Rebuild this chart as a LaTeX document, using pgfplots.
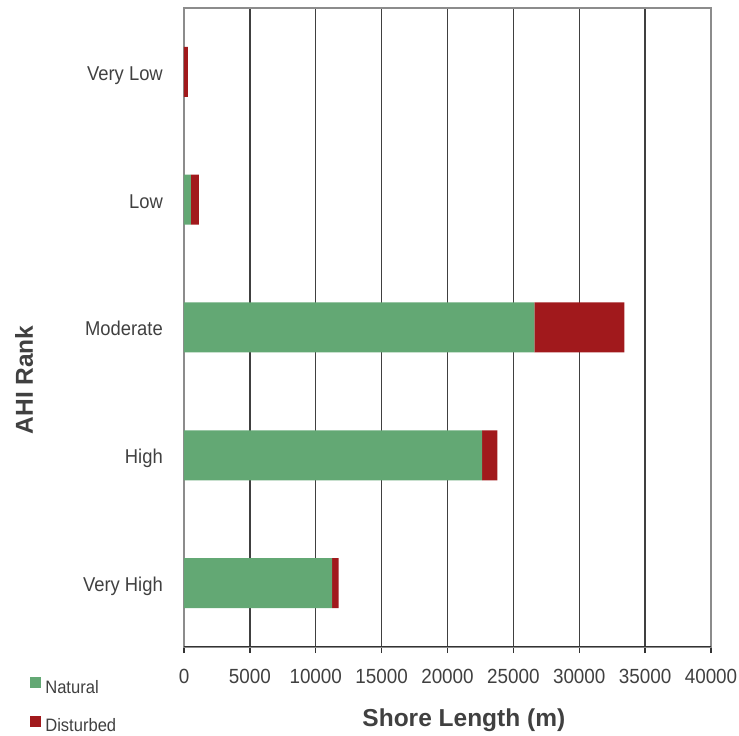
\documentclass[border=0pt]{standalone}
\usepackage{fontspec}
\setmainfont{Liberation Sans}
\newfontfamily\narrowfont{Liberation Sans}[FakeStretch=0.92]
\usepackage{pgfplots}
\pgfplotsset{compat=1.18}
\definecolor{natural}{RGB}{99,168,116}
\definecolor{disturbed}{RGB}{161,25,28}
\definecolor{txt}{RGB}{64,64,64}
\begin{document}
\begin{tikzpicture}
\useasboundingbox (0,0) rectangle (739pt,736pt);
\begin{axis}[
  at={(184pt,89pt)}, anchor=south west,
  width=527pt, height=639pt, scale only axis,
  xbar stacked, bar width=50pt,
  xmin=0, xmax=40000, ymin=-0.5, ymax=4.5,
  xtick={0,5000,10000,15000,20000,25000,30000,35000,40000},
  ytick={0,1,2,3,4},
  yticklabels={Very High,High,Moderate,Low,Very Low},
  scaled x ticks=false,
  xmajorgrids,
  major grid style={black!75, line width=1.3pt},
  axis line style={black!45, line width=2pt},
  xtick pos=left,
  tick align=outside,
  major tick length=6pt,
  xtick style={black!80, line width=1.3pt},
  ytick style={draw=none},
  /pgf/number format/1000 sep={},
  /pgf/number format/assume math mode=true,
  xticklabel style={font=\narrowfont\fontsize{20.5}{24}\selectfont, text=txt, yshift=-13pt},
  yticklabel style={font=\narrowfont\fontsize{20}{24}\selectfont, text=txt, anchor=base east, inner sep=0pt, xshift=-15pt, yshift=-8.5pt},
  xlabel={Shore Length (m)},
  xlabel style={at={(axis description cs:0.531,-0.114)}, anchor=center, font=\bfseries\fontsize{24.5}{28}\selectfont, text=txt},
  ylabel={AHI Rank},
  ylabel style={at={(axis description cs:-0.3036,0.418)}, anchor=center, font=\bfseries\fontsize{24.5}{28}\selectfont, text=txt},
  legend style={at={(axis description cs:-0.292,-0.047)}, anchor=north west, draw=none, fill=none,
    font=\narrowfont\fontsize{18}{22}\selectfont, text=txt, row sep=19pt, inner sep=0pt,
    nodes={inner xsep=4pt}},
  legend cell align=left,
]
\addplot[fill=natural, draw=none,
  legend image code/.code={\fill[natural] (0pt,-1pt) rectangle (11pt,10pt);}]
  coordinates {(11240,0) (22620,1) (26590,2) (530,3) (0,4)};
\addplot[fill=disturbed, draw=none,
  legend image code/.code={\fill[disturbed] (0pt,-1pt) rectangle (11pt,10pt);}]
  coordinates {(500,0) (1160,1) (6830,2) (590,3) (300,4)};
\legend{Natural,Disturbed}
\draw[black!80, line width=1.3pt] (rel axis cs:0,0) -- (rel axis cs:1,0);
\end{axis}
\end{tikzpicture}
\end{document}
